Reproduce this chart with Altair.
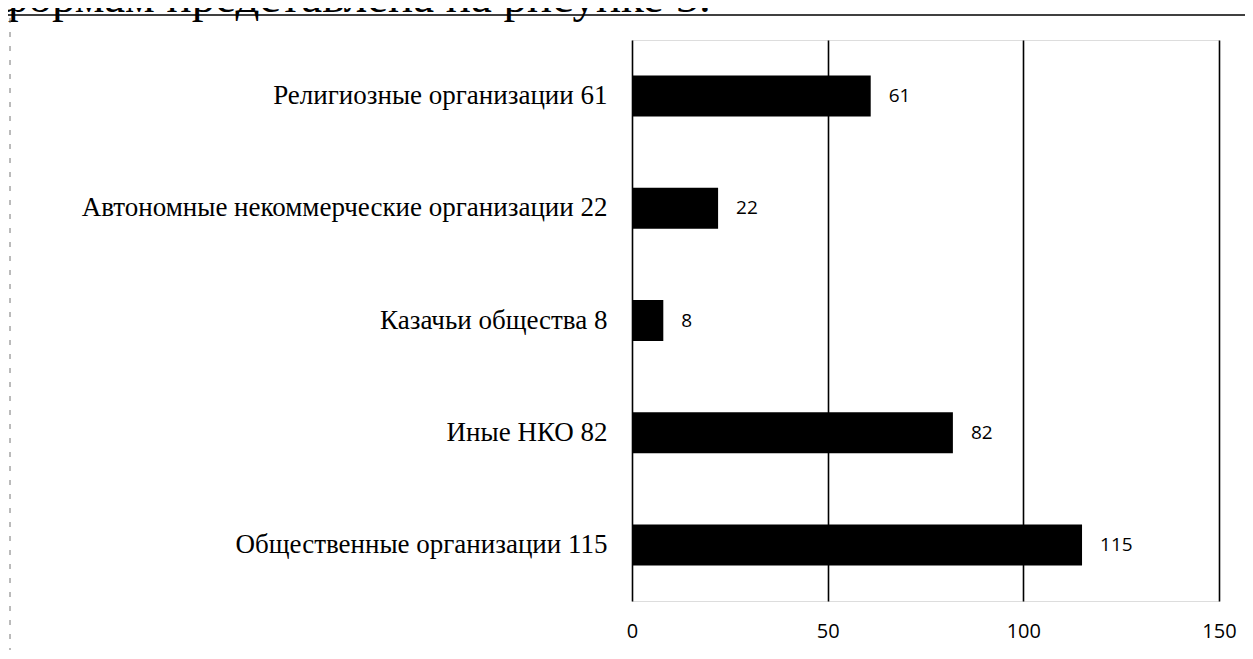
import altair as alt
import pandas as pd

categories = [
    "Религиозные организации 61",
    "Автономные некоммерческие организации 22",
    "Казачьи общества 8",
    "Иные НКО 82",
    "Общественные организации 115",
]
values = [61, 22, 8, 82, 115]
x_ticks = [0, 50, 100, 150]
header_text = "формам представлена на рисунке 5."

df = pd.DataFrame({"cat": categories, "val": values})

y_enc = alt.Y(
    "cat:N",
    sort=categories,
    scale=alt.Scale(paddingInner=0.635, paddingOuter=0.316),
    axis=alt.Axis(
        title=None, domain=False, ticks=False, grid=False,
        labelFont="Liberation Serif", labelFontSize=27, labelColor="black",
        labelPadding=25, labelLimit=800,
    ),
)
x_enc = alt.X(
    "val:Q",
    scale=alt.Scale(domain=[0, 150], nice=False),
    axis=alt.Axis(
        title=None, values=x_ticks, domain=False, ticks=False,
        grid=True, gridColor="black", gridWidth=1.6, gridOpacity=1,
        labelFont="Open Sans", labelFontSize=20, labelColor="black",
        labelPadding=20, labelFlush=False,
    ),
)

base = alt.Chart(df)
bars = base.mark_bar(color="black").encode(x=x_enc, y=y_enc)
labels = base.mark_text(
    align="left", baseline="middle", dx=18,
    font="Open Sans", fontSize=19, color="black",
).encode(x="val:Q", y=alt.Y("cat:N", sort=categories), text="val:Q")

one = alt.Data(values=[{"t": header_text}])
header = alt.Chart(one).mark_text(
    align="left", baseline="alphabetic", font="Liberation Serif",
    fontSize=47, color="black",
).encode(x=alt.value(-634), y=alt.value(-28), text="t:N")
top_line = alt.Chart(one).mark_rule(color="black", strokeWidth=1.5).encode(
    x=alt.value(-632), x2=alt.value(613), y=alt.value(-25)
)
left_line = alt.Chart(one).mark_rule(
    color="#777777", strokeWidth=1, strokeDash=[5, 9]
).encode(x=alt.value(-622), y=alt.value(-22), y2=alt.value(615))

chart = alt.layer(bars, labels, header, top_line, left_line).properties(
    width=587, height=561,
    autosize=alt.AutoSizeParams(type="none"),
    padding={"left": 624, "top": 32, "right": 26, "bottom": 49},
).configure_view(stroke=None).configure(background="white")

chart.save("out.html", embed_options={"renderer": "svg", "actions": False})
